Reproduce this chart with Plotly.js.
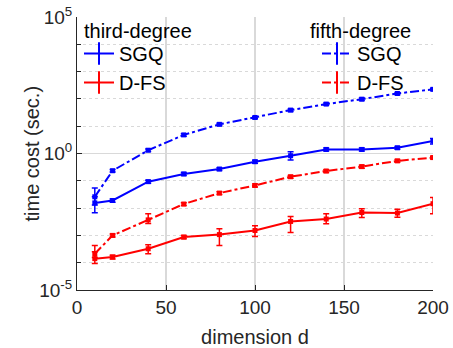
<!DOCTYPE html>
<html>
<head>
<meta charset="utf-8">
<script src="https://cdn.plot.ly/plotly-3.0.1.min.js"></script>
<style>html,body{margin:0;padding:0;background:#fff;}#chart{width:453px;height:348px;}</style>
</head>
<body>
<div id="chart"></div>
<script>
// dimension d
const dims = [10, 20, 40, 60, 80, 100, 120, 140, 160, 180, 200];

// third-degree SGQ (sec.)
const sgq3 = [0.0155, 0.019, 0.093, 0.178, 0.27, 0.50, 0.83, 1.41, 1.41, 1.62, 2.9];
const sgq3Up = [0.0105, 0.0025, 0.012, 0.022, 0.03, 0.06, 0.33, 0.17, 0.17, 0.2, 0.67];
const sgq3Dn = [0.0087, 0.0025, 0.012, 0.022, 0.03, 0.06, 0.25, 0.17, 0.17, 0.2, 0.68];

// fifth-degree SGQ (sec.)
const sgq5 = [0.026, 0.234, 1.32, 4.8, 11.7, 20.9, 38.9, 64.6, 97.7, 158, 224];
const sgq5Up = [0.029, 0.025, 0.13, 0.5, 1.2, 2, 4, 6, 10, 15, 22];
const sgq5Dn = [0.013, 0.025, 0.13, 0.5, 1.2, 2, 4, 6, 10, 15, 22];

// third-degree D-FS (sec.)
const dfs3 = [1.41e-4, 1.62e-4, 3.24e-4, 8.7e-4, 1.07e-3, 1.51e-3, 3.24e-3, 3.98e-3, 6.9e-3, 6.6e-3, 0.0145];
const dfs3Up = [1.1e-4, 2.4e-5, 1.33e-4, 1.2e-4, 0.69e-3, 0.75e-3, 1.7e-3, 2.2e-3, 2.5e-3, 2.5e-3, 0.0099];
const dfs3Dn = [4.8e-5, 2.4e-5, 1.1e-4, 1.2e-4, 0.64e-3, 0.59e-3, 1.95e-3, 1.3e-3, 2.4e-3, 2.0e-3, 0.0083];

// fifth-degree D-FS (sec.)
const dfs5 = [2.14e-4, 1.0e-3, 3.7e-3, 0.0141, 0.0355, 0.0676, 0.141, 0.229, 0.331, 0.537, 0.708];
const dfs5Up = [2.1e-4, 1.2e-4, 2.5e-3, 1.7e-3, 4e-3, 8e-3, 0.017, 0.027, 0.04, 0.06, 0.08];
const dfs5Dn = [0.6e-4, 1.2e-4, 1.0e-3, 1.7e-3, 4e-3, 8e-3, 0.017, 0.027, 0.04, 0.06, 0.08];

const xTicks = [0, 50, 100, 150, 200];
const yTicks = [1e-5, 1, 1e5];
const yTickText = ['10<sup>-5</sup>', '10<sup>0</sup>', '10<sup>5</sup>'];
const yMinor = [1e-4, 1e-3, 1e-2, 1e-1, 1e1, 1e2, 1e3, 1e4];

const BLUE = '#0000ff', RED = '#ff0000';

function series(y, up, dn, color, dash) {
  return {
    x: dims, y: y, type: 'scatter', mode: 'lines+markers',
    line: {color: color, width: 2, dash: dash},
    marker: {color: color, symbol: 'square', size: 5},
    error_y: {type: 'data', symmetric: false, array: up, arrayminus: dn,
              color: color, thickness: 1.5, width: 3},
    showlegend: false, hoverinfo: 'skip'
  };
}
function legendItem(name, color, dash, legend) {
  return {
    x: [null], y: [null], type: 'scatter', mode: 'lines+markers', name: name,
    legend: legend,
    line: {color: color, width: 2, dash: dash},
    marker: {color: color, symbol: 'line-ns-open', size: 20, line: {color: color, width: 2}},
    showlegend: true
  };
}

const data = [
  series(dfs5, dfs5Up, dfs5Dn, RED, 'dashdot'),
  series(sgq5, sgq5Up, sgq5Dn, BLUE, 'dashdot'),
  series(dfs3, dfs3Up, dfs3Dn, RED, 'solid'),
  series(sgq3, sgq3Up, sgq3Dn, BLUE, 'solid'),
  legendItem('SGQ', BLUE, 'solid', 'legend'),
  legendItem('D-FS', RED, 'solid', 'legend'),
  legendItem('SGQ', BLUE, 'dashdot', 'legend2'),
  legendItem('D-FS', RED, 'dashdot', 'legend2')
];

const FONT = 'Liberation Sans, Arial, sans-serif';
const TXT = '#262626';
const GRID = '#d9d9d9';

const legendBase = {
  xref: 'paper', yref: 'paper', xanchor: 'left', yanchor: 'top',
  bgcolor: 'rgba(0,0,0,0)', borderwidth: 0, itemwidth: 30,
  font: {family: FONT, size: 20, color: '#000'}, traceorder: 'normal',
  tracegroupgap: 0
};

const layout = {
  width: 453, height: 348,
  margin: {l: 77, r: 20, t: 17, b: 58},
  paper_bgcolor: '#fff', plot_bgcolor: '#fff',
  font: {family: FONT, size: 19, color: TXT},
  showlegend: true,
  xaxis: {
    range: [0, 200], tickmode: 'array', tickvals: xTicks,
    showline: true, linecolor: '#262626', linewidth: 1, mirror: false,
    ticks: 'inside', ticklen: 5, tickcolor: '#262626',
    showgrid: true, gridcolor: GRID, gridwidth: 1.5, zeroline: false,
    tickfont: {size: 19, color: TXT},
    title: {text: 'dimension d', font: {size: 20, color: TXT}, standoff: 17}
  },
  yaxis: {
    type: 'log', range: [-5, 5], tickmode: 'array', tickvals: yTicks, ticktext: yTickText,
    showline: true, linecolor: '#262626', linewidth: 1,
    ticks: 'inside', ticklen: 5, tickcolor: '#262626',
    showgrid: true, gridcolor: GRID, gridwidth: 1.5, zeroline: false,
    tickfont: {size: 19, color: TXT},
    minor: {tickvals: yMinor, ticks: 'inside', ticklen: 4, tickcolor: '#262626',
            showgrid: true, gridcolor: GRID, gridwidth: 1, griddash: 'dot'}
  },
  legend: Object.assign({}, legendBase, {x: (79 - 77) / 356, y: 1 - (34 - 17) / 273}),
  legend2: Object.assign({}, legendBase, {x: (317 - 77) / 356, y: 1 - (34 - 17) / 273}),
  annotations: [
    {text: 'time cost (sec.)', xref: 'paper', yref: 'paper', x: (31 - 77) / 356, y: 0.5,
     xanchor: 'center', yanchor: 'middle', textangle: -90, showarrow: false,
     font: {family: FONT, size: 20, color: TXT}},
    {text: 'third-degree', xref: 'paper', yref: 'paper', x: (82 - 77) / 356, y: 1 - (31 - 17) / 273,
     xanchor: 'left', yanchor: 'middle', showarrow: false, font: {family: FONT, size: 20, color: '#000'}},
    {text: 'fifth-degree', xref: 'paper', yref: 'paper', x: (308 - 77) / 356, y: 1 - (31 - 17) / 273,
     xanchor: 'left', yanchor: 'middle', showarrow: false, font: {family: FONT, size: 20, color: '#000'}}
  ]
};

Plotly.newPlot('chart', data, layout, {displayModeBar: false, staticPlot: true});
</script>
</body>
</html>
